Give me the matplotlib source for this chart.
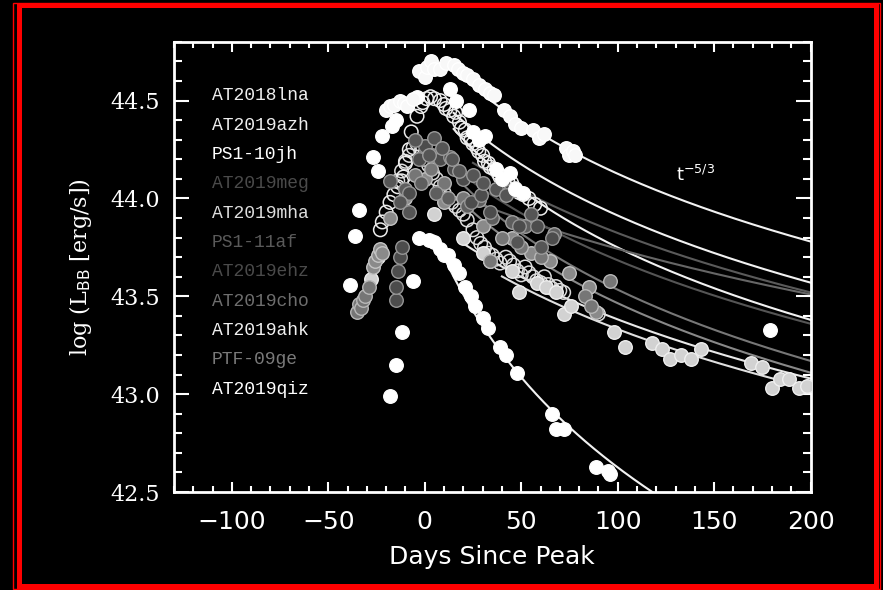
import numpy as np
import matplotlib
matplotlib.use('Agg')
import matplotlib.pyplot as plt
from matplotlib.patches import Rectangle
from matplotlib.ticker import MultipleLocator

# event names and label colours (legend order)
names = ['AT2018lna', 'AT2019azh', 'PS1-10jh', 'AT2019meg', 'AT2019mha', 'PS1-11af',
         'AT2019ehz', 'AT2019cho', 'AT2019ahk', 'PTF-09ge', 'AT2019qiz']
label_colors = ['#eeeeee', '#eeeeee', '#ffffff', '#4a4a4a', '#dddddd', '#5a5a5a',
                '#4a4a4a', '#6e6e6e', '#f0f0f0', '#7a7a7a', '#ffffff']

# light curves: days since peak, log L_BB
lna_days = [-20, -18, -16, -13, -11, -9, -6, -3, 0, 1, 3, 5, 8, 11, 15, 17, 20, 22, 25, 28,
            31, 34, 36, 41, 44, 47, 50, 56, 59, 62, 73, 75, 77, 78]
lna_logL = [44.45, 44.47, 44.48, 44.50, 44.49, 44.47, 44.51, 44.65, 44.62, 44.67, 44.70, 44.66,
            44.66, 44.69, 44.68, 44.66, 44.64, 44.63, 44.61, 44.58, 44.56, 44.54, 44.53, 44.45,
            44.42, 44.38, 44.36, 44.35, 44.31, 44.33, 44.26, 44.22, 44.24, 44.22]

azh_days = [-23, -22, -20, -18, -16, -14, -12, -11, -10, -8, -7, -4, -2, -1, 1, 3, 5, 8, 10, 11,
            13, 15, 16, 18, 19, 21, 22, 24, 25, 27, 28, 30, 31, 33, 34, 36, 38, 39, 41, 43,
            45, 47, 49, 51, 54, 57, 60]
azh_logL = [43.84, 43.88, 43.93, 43.98, 44.02, 44.06, 44.09, 44.11, 44.18, 44.25, 44.34, 44.42,
            44.47, 44.49, 44.51, 44.52, 44.51, 44.50, 44.48, 44.46, 44.45, 44.42, 44.44, 44.39,
            44.36, 44.35, 44.31, 44.30, 44.28, 44.26, 44.24, 44.22, 44.19, 44.18, 44.16, 44.15,
            44.13, 44.11, 44.11, 44.09, 44.08, 44.05, 44.03, 44.02, 44.00, 43.97, 43.95]

p10_days = [-36, -34, -27, -24, -22, -17, -15, -4, 13, 16, 23, 25, 28, 31, 37, 40, 44, 47, 51, 179]
p10_logL = [43.81, 43.94, 44.21, 44.14, 44.32, 44.37, 44.40, 44.52, 44.56, 44.50, 44.45, 44.34,
            44.30, 44.32, 44.15, 44.10, 44.13, 44.05, 44.03, 43.33]

meg_days = [-18, -13, -8, -5, 2, 5, 9, 14, 18, 25, 30, 37, 42, 48, 55, 60]
meg_logL = [44.09, 43.98, 43.93, 44.30, 44.22, 44.31, 44.26, 44.20, 44.14, 44.12, 44.08, 44.05,
            44.02, 43.78, 43.92, 43.75]

mha_days = [-28, -24, 5, 20, 30, 34, 45, 49, 58, 63, 68, 72, 76, 98, 104, 118, 123, 127, 133,
            138, 143, 169, 175, 180, 184, 189, 194, 198]
mha_logL = [43.59, 43.70, 43.92, 43.80, 43.72, 43.68, 43.63, 43.52, 43.57, 43.55, 43.52, 43.41,
            43.45, 43.32, 43.24, 43.26, 43.23, 43.18, 43.20, 43.18, 43.23, 43.16, 43.14, 43.03,
            43.08, 43.08, 43.03, 43.04]

af_days = [-10, -2, 6, 12, 22, 28, 35, 45, 52, 67]
af_logL = [44.05, 44.08, 44.03, 44.00, 43.96, 43.99, 43.90, 43.88, 43.86, 43.82]

ehz_days = [-15, -15, -14, -13, -12, -8, -3, 0, 4, 8, 13, 15, 20, 24, 29, 34, 44, 49, 58, 66]
ehz_logL = [43.48, 43.55, 43.63, 43.70, 43.75, 44.03, 44.20, 44.27, 44.22, 44.20, 44.21, 44.15,
            44.10, 43.98, 44.02, 43.93, 44.04, 43.86, 43.86, 43.80]

cho_days = [-35, -34, -33, -32, -31, -29, -5, 3, 10, 20, 34, 40, 50, 60, 83, 86, 96]
cho_logL = [43.42, 43.46, 43.44, 43.48, 43.50, 43.55, 44.12, 44.15, 44.08, 44.00, 43.68, 43.80,
            43.75, 43.70, 43.50, 43.45, 43.58]

ahk_days = [-14, -12, -10, -8, -6, -4, -2, 0, 2, 4, 6, 8, 10, 12, 14, 16, 18, 20, 22, 25,
            27, 29, 31, 33, 35, 37, 39, 42, 44, 46, 48, 50, 52, 54, 56, 58, 60, 62, 64, 66,
            68, 70, 72, 90]
ahk_logL = [44.09, 44.14, 44.19, 44.22, 44.26, 44.28, 44.24, 44.20, 44.17, 44.13, 44.10, 44.06,
            44.03, 44.00, 43.98, 43.96, 43.94, 43.92, 43.89, 43.84, 43.80, 43.77, 43.75, 43.72,
            43.71, 43.69, 43.67, 43.70, 43.68, 43.66, 43.63, 43.61, 43.65, 43.62, 43.60, 43.58,
            43.57, 43.60, 43.56, 43.54, 43.55, 43.53, 43.52, 43.41]

ptf_days = [-27, -26, -24, -23, -22, -18, -10, 0, 10, 30, 45, 55, 65, 75, 85, 89]
ptf_logL = [43.65, 43.68, 43.71, 43.74, 43.72, 43.90, 44.00, 44.10, 43.98, 43.86, 43.80, 43.72,
            43.68, 43.62, 43.55, 43.42]

qiz_days = [-39, -18, -15, -12, -6, -3, 2, 5, 8, 10, 12, 15, 18, 21, 24, 26, 30, 33, 39, 42,
            48, 66, 68, 72, 89, 95, 96]
qiz_logL = [43.56, 42.99, 43.15, 43.32, 43.58, 43.80, 43.79, 43.78, 43.74, 43.71, 43.71, 43.66,
            43.62, 43.55, 43.50, 43.45, 43.39, 43.34, 43.24, 43.20, 43.11, 42.90, 42.82, 42.82,
            42.63, 42.61, 42.59]

# power-law fits  log L = ref_logL - index * log10((t - t0) / (ref_day - t0))
fit_ref_day = [200, 200, 200, 200, 200, 200, 200, 200, 200, 200, 118]
fit_ref_logL = [43.78, 43.38, 43.57, 43.52, 43.03, 43.51, 43.36, 43.17, 43.08, 43.11, 42.50]
fit_t0 = [-63, -50, -65, -92, -93, -164, -77, -53, -93, -58, -40]
fit_index = [5/3, 5/3, 5/3, 5/3, 5/3, 5/3, 5/3, 5/3, 5/3, 5/3, 2.4]
fit_start = [10, 15, 15, 25, 40, 30, 20, 20, 20, 20, 5]
fit_colors = ['#f2f2f2', '#f2f2f2', '#f2f2f2', '#5a5a5a', '#e0e0e0', '#666666',
              '#555555', '#777777', '#e8e8e8', '#888888', '#f2f2f2']

fig = plt.figure(figsize=(8.83, 5.90), dpi=100, facecolor='black')
ax = fig.add_axes([0.197, 0.166, 0.721, 0.763], facecolor='black')

# fit curves
for i in range(len(names)):
    t = np.linspace(fit_start[i], 200, 300)
    y = fit_ref_logL[i] - fit_index[i] * np.log10((t - fit_t0[i]) / (fit_ref_day[i] - fit_t0[i]))
    ax.plot(t, y, color=fit_colors[i], lw=1.5, zorder=1)

s = 95
# open rings
ax.scatter(ahk_days, ahk_logL, s=s, facecolor='none', edgecolor='#dcdcdc', lw=1.1, zorder=2)
ax.scatter(azh_days, azh_logL, s=s, facecolor='none', edgecolor='#ececec', lw=1.1, zorder=2)
# filled points
ax.scatter(mha_days, mha_logL, s=s, facecolor='#d2d2d2', edgecolor='#efefef', lw=1.0, zorder=3)
ax.scatter(ptf_days, ptf_logL, s=s, facecolor='#8a8a8a', edgecolor='#c4c4c4', lw=1.0, zorder=3)
ax.scatter(cho_days, cho_logL, s=s, facecolor='#767676', edgecolor='#b8b8b8', lw=1.0, zorder=3)
ax.scatter(af_days, af_logL, s=s, facecolor='#5e5e5e', edgecolor='#a0a0a0', lw=1.0, zorder=3)
ax.scatter(ehz_days, ehz_logL, s=s, facecolor='#4c4c4c', edgecolor='#959595', lw=1.0, zorder=3)
ax.scatter(meg_days, meg_logL, s=s, facecolor='#555555', edgecolor='#9a9a9a', lw=1.0, zorder=3)
ax.scatter(p10_days, p10_logL, s=s, facecolor='white', edgecolor='white', lw=1.0, zorder=4)
ax.scatter(lna_days, lna_logL, s=s, facecolor='#f8f8f8', edgecolor='white', lw=1.0, zorder=4)
ax.scatter(qiz_days, qiz_logL, s=s, facecolor='white', edgecolor='white', lw=1.0, zorder=4)

# event labels
for i, nm in enumerate(names):
    ax.text(-110.5, 44.525 - 0.15 * i, nm, color=label_colors[i], fontsize=13,
            family='Liberation Mono', va='center', ha='left')

ax.text(130, 44.09, r'$\mathregular{t^{-5/3}}$', color='white', fontsize=13, ha='left',
        va='baseline')

ax.set_xlim(-130, 200)
ax.set_ylim(42.5, 44.8)
ax.xaxis.set_major_locator(MultipleLocator(50))
ax.xaxis.set_minor_locator(MultipleLocator(10))
ax.yaxis.set_major_locator(MultipleLocator(0.5))
ax.yaxis.set_minor_locator(MultipleLocator(0.1))
ax.yaxis.set_major_formatter(plt.FormatStrFormatter('%.1f'))

for sp in ax.spines.values():
    sp.set_color('white')
    sp.set_linewidth(2)
ax.tick_params(which='both', direction='in', top=True, right=True, color='white', width=1.5)
ax.tick_params(axis='x', which='major', length=7, pad=13, labelsize=18, labelcolor='white')
ax.tick_params(axis='x', which='minor', length=4)
ax.tick_params(axis='y', which='major', length=11, pad=10, labelsize=16, labelcolor='white')
ax.tick_params(axis='y', which='minor', length=5.5)
for lab in ax.get_yticklabels():
    lab.set_family('DejaVu Serif')

plt.rcParams['mathtext.fontset'] = 'dejavuserif'
ax.set_xlabel('Days Since Peak', color='white', fontsize=18, labelpad=8)
ax.set_ylabel(r'log (L$_{\rm BB}$ [erg/s])', color='white', fontsize=16, labelpad=12,
              family='DejaVu Serif')

# red frame around the figure
W, H = 883, 590
fig.patches.append(Rectangle((18.5 / W, 4 / H), (876 - 18.5) / W, (581.5) / H,
                             transform=fig.transFigure, fill=False, edgecolor='red', lw=3.6))
fig.patches.append(Rectangle((13 / W, 1.5 / H), (880 - 13) / W, (586) / H,
                             transform=fig.transFigure, fill=False, edgecolor='red', lw=1.0))

fig.savefig('out.png', dpi=100, facecolor='black')
